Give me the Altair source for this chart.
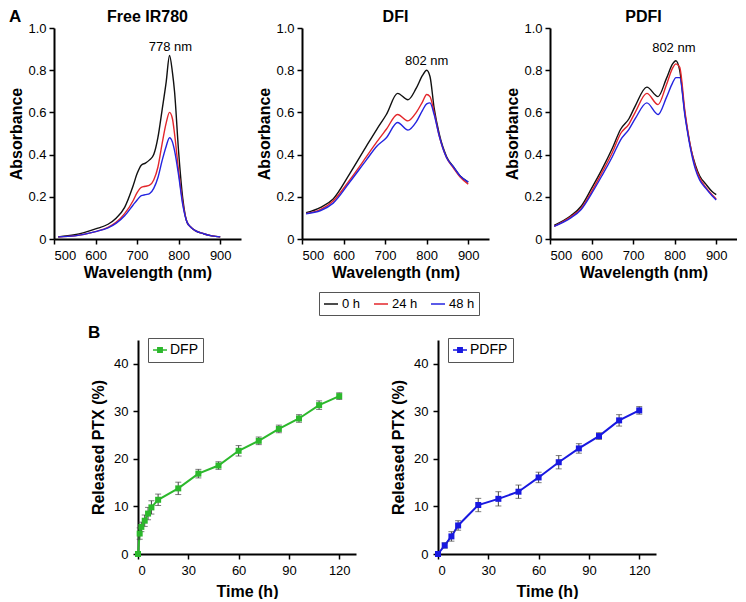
import altair as alt
import pandas as pd

FONT = "Liberation Sans"

# ---------------- Panel A: absorption spectra ----------------
SERIES = ["0 h", "24 h", "48 h"]
SERIES_COLORS = ["#111111", "#e3262b", "#2424e0"]

PANEL_TITLES = ["Free IR780", "DFI", "PDFI"]
PEAK_LABELS = ["778 nm", "802 nm", "802 nm"]
PEAK_WL = [780, 800, 798]
PEAK_ABS = [0.91, 0.842, 0.907]

FREE_WL = [510, 550, 600, 630, 650, 670, 690, 700, 710, 720, 730, 740, 750, 760, 770, 778,
           785, 790, 800, 810, 820, 830, 840, 860, 880, 900]
FREE_0H = [0.01, 0.02, 0.048, 0.07, 0.10, 0.15, 0.25, 0.31, 0.35, 0.36, 0.375, 0.40, 0.48, 0.61,
           0.745, 0.87, 0.79, 0.70, 0.41, 0.19, 0.08, 0.055, 0.04, 0.025, 0.015, 0.01]
FREE_24H = [0.01, 0.015, 0.035, 0.055, 0.08, 0.12, 0.18, 0.22, 0.245, 0.25, 0.255, 0.28, 0.34, 0.45,
            0.55, 0.60, 0.57, 0.50, 0.32, 0.17, 0.08, 0.055, 0.04, 0.025, 0.015, 0.01]
FREE_48H = [0.01, 0.015, 0.035, 0.053, 0.075, 0.11, 0.16, 0.185, 0.205, 0.21, 0.215, 0.24, 0.29, 0.37,
            0.44, 0.48, 0.46, 0.42, 0.30, 0.16, 0.08, 0.055, 0.04, 0.025, 0.015, 0.01]

DFI_WL = [510, 545, 575, 615, 655, 680, 703, 730, 755, 775, 790, 800, 808, 818, 830, 848, 865, 880, 900]
DFI_0H = [0.125, 0.15, 0.19, 0.31, 0.44, 0.52, 0.59, 0.69, 0.66, 0.715, 0.775, 0.80, 0.77, 0.62,
          0.50, 0.39, 0.34, 0.30, 0.27]
DFI_24H = [0.12, 0.14, 0.18, 0.28, 0.39, 0.46, 0.52, 0.59, 0.56, 0.60, 0.65, 0.685, 0.675, 0.60,
           0.49, 0.385, 0.335, 0.295, 0.26]
DFI_48H = [0.12, 0.135, 0.17, 0.27, 0.375, 0.44, 0.48, 0.552, 0.516, 0.555, 0.61, 0.64, 0.645, 0.59,
           0.49, 0.385, 0.34, 0.30, 0.27]

PDFI_WL = [510, 550, 575, 600, 625, 650, 670, 690, 705, 733, 760, 780, 795, 803, 812, 825, 840, 850,
           860, 875, 890, 900]
PDFI_0H = [0.065, 0.11, 0.155, 0.24, 0.33, 0.43, 0.52, 0.57, 0.63, 0.72, 0.675, 0.76, 0.83, 0.845,
           0.80, 0.59, 0.42, 0.35, 0.30, 0.26, 0.225, 0.21]
PDFI_24H = [0.06, 0.105, 0.145, 0.225, 0.315, 0.41, 0.50, 0.545, 0.60, 0.69, 0.637, 0.73, 0.81, 0.83,
            0.815, 0.60, 0.42, 0.34, 0.29, 0.245, 0.21, 0.19]
PDFI_48H = [0.06, 0.10, 0.14, 0.215, 0.30, 0.39, 0.47, 0.52, 0.57, 0.645, 0.59, 0.67, 0.74, 0.765,
            0.765, 0.58, 0.41, 0.33, 0.28, 0.24, 0.205, 0.185]

WL_TICKS = [500, 550, 600, 650, 700, 750, 800, 850, 900, 950]
ABS_TICKS = [0, 0.1, 0.2, 0.3, 0.4, 0.5, 0.6, 0.7, 0.8, 0.9, 1.0]

# ---------------- Panel B: PTX release ----------------
DFP_T = [0, 1, 2, 4, 6, 8, 12, 24, 36, 48, 60, 72, 84, 96, 108, 120]
DFP_MEAN = [0, 4.3, 5.7, 7.0, 8.5, 9.8, 11.4, 13.8, 16.9, 18.6, 21.7, 23.8, 26.3, 28.5, 31.3, 33.2]
DFP_ERR = [0, 1.2, 1.0, 1.2, 1.3, 1.4, 1.2, 1.3, 0.9, 0.8, 1.1, 0.8, 0.8, 0.8, 0.9, 0.7]

PDFP_T = [0, 4, 8, 12, 24, 36, 48, 60, 72, 84, 96, 108, 120]
PDFP_MEAN = [0, 1.8, 3.7, 6.0, 10.3, 11.6, 13.1, 16.1, 19.3, 22.2, 24.8, 28.1, 30.2]
PDFP_ERR = [0, 0.55, 1.0, 1.0, 1.4, 1.5, 1.4, 1.1, 1.4, 1.0, 0.7, 1.2, 0.8]

TIME_TICKS = [0, 15, 30, 45, 60, 75, 90, 105, 120]
PTX_TICKS = [0, 5, 10, 15, 20, 25, 30, 35, 40, 45]

LETTERS = ["A", "B"]

AW, AH = 187, 211
BW, BH = 218, 214

LINE_SQ = "M-1,-0.12H1V0.12H-1Z M-0.42,-0.42H0.42V0.42H-0.42Z"


def spectrum_panel(idx, wl, vals, legend=None, letter=None):
    rows = []
    for s, ys in zip(SERIES, vals):
        for w, v in zip(wl, ys):
            rows.append({"wl": w, "abs": v, "series": s})
    df = pd.DataFrame(rows)
    x = alt.X("wl:Q", scale=alt.Scale(domain=[500, 950], nice=False, zero=False),
              axis=alt.Axis(title="Wavelength (nm)", values=WL_TICKS,
                            labelExpr="datum.value % 100 == 0 && datum.value <= 900 ? datum.label : ''",
                            titleX=AW / 2, titleY=38, titleBaseline="alphabetic"))
    y = alt.Y("abs:Q", scale=alt.Scale(domain=[0, 1], nice=False),
              axis=alt.Axis(title="Absorbance", values=ABS_TICKS, labelPadding=3,
                            labelExpr="datum.value == 0 ? '0' : (round(datum.value*10) % 2 == 0 ? format(datum.value, '.1f') : '')",
                            titleX=-33, titleY=AH / 2, titleBaseline="alphabetic"))
    color = alt.Color("series:N", scale=alt.Scale(domain=SERIES, range=SERIES_COLORS),
                      legend=legend)
    lines = alt.Chart(df).mark_line(strokeWidth=1.4, interpolate="monotone").encode(
        x=x, y=y, color=color, detail="series:N")
    peak = alt.Chart(pd.DataFrame({"wl": [PEAK_WL[idx]], "abs": [PEAK_ABS[idx]],
                                   "label": [PEAK_LABELS[idx]]})).mark_text(
        font=FONT, fontSize=13, color="black", baseline="middle").encode(
        x="wl:Q", y="abs:Q", text="label:N")
    title = alt.Chart(pd.DataFrame({"t": [PANEL_TITLES[idx]]})).mark_text(
        font=FONT, fontSize=16, fontWeight="bold", color="black", baseline="middle").encode(
        x=alt.value(AW / 2), y=alt.value(-11), text="t:N")
    layers = [lines, peak, title]
    if letter is not None:
        lt = alt.Chart(pd.DataFrame({"t": [letter]})).mark_text(
            font=FONT, fontSize=17, fontWeight="bold", color="black", baseline="middle",
            align="left").encode(x=alt.value(-45), y=alt.value(-11), text="t:N")
        layers.append(lt)
    return alt.layer(*layers).properties(width=AW, height=AH)


def release_panel(name, color_hex, t, mean, err, letter=None):
    df = pd.DataFrame({"t": t, "mean": mean, "err": err, "name": [name] * len(t)})
    base = alt.Chart(df).transform_calculate(
        lo="datum.mean - datum.err", hi="datum.mean + datum.err")
    x = alt.X("t:Q", scale=alt.Scale(domain=[0, 130], nice=False),
              axis=alt.Axis(title="Time (h)", values=TIME_TICKS,
                            labelExpr="datum.value % 30 == 0 ? datum.label : ''",
                            titleX=BW / 2, titleY=42, titleBaseline="alphabetic"))
    y = alt.Y("mean:Q", scale=alt.Scale(domain=[0, 45], nice=False),
              axis=alt.Axis(title="Released PTX (%)", values=PTX_TICKS, labelPadding=5,
                            labelExpr="datum.value % 10 == 0 ? datum.label : ''",
                            titleX=-35, titleY=BH / 2, titleBaseline="alphabetic"))
    line = base.mark_line(color=color_hex, strokeWidth=2).encode(x=x, y=y)
    rule = base.mark_rule(color="#444444", strokeWidth=1).encode(
        x="t:Q", y="lo:Q", y2="hi:Q")
    cap_lo = base.mark_tick(color="#444444", orient="horizontal", size=6, thickness=1).encode(
        x="t:Q", y="lo:Q")
    cap_hi = base.mark_tick(color="#444444", orient="horizontal", size=6, thickness=1).encode(
        x="t:Q", y="hi:Q")
    pts = base.mark_square(size=36, filled=True, opacity=1).encode(
        x="t:Q", y="mean:Q",
        color=alt.Color("name:N", scale=alt.Scale(domain=[name], range=[color_hex]),
                        legend=alt.Legend(title=None, orient="none", legendX=10, legendY=-2,
                                          strokeColor="#555555", padding=5, labelFontSize=14,
                                          labelFont=FONT, labelColor="black",
                                          symbolType=LINE_SQ, symbolSize=196,
                                          symbolStrokeWidth=0, labelOffset=3)))
    layers = [line, rule, cap_lo, cap_hi, pts]
    if letter is not None:
        lt = alt.Chart(pd.DataFrame({"t": [letter]})).mark_text(
            font=FONT, fontSize=17, fontWeight="bold", color="black", baseline="middle",
            align="left").encode(x=alt.value(-50), y=alt.value(-7), text="t:N")
        layers.append(lt)
    return alt.layer(*layers).properties(width=BW, height=BH)


legend_a = alt.Legend(title=None, orient="none", legendX=17, legendY=264, direction="horizontal",
                      strokeColor="#555555", padding=4, labelFontSize=13, labelFont=FONT,
                      labelColor="black", symbolType="stroke", symbolSize=196,
                      symbolStrokeWidth=1.5, labelOffset=3, columnPadding=10)

a1 = spectrum_panel(0, FREE_WL, [FREE_0H, FREE_24H, FREE_48H], legend=None, letter=LETTERS[0])
a2 = spectrum_panel(1, DFI_WL, [DFI_0H, DFI_24H, DFI_48H], legend=legend_a)
a3 = spectrum_panel(2, PDFI_WL, [PDFI_0H, PDFI_24H, PDFI_48H], legend=None)

b1 = release_panel("DFP", "#2cb82c", DFP_T, DFP_MEAN, DFP_ERR, letter=LETTERS[1])
b2 = release_panel("PDFP", "#1818e0", PDFP_T, PDFP_MEAN, PDFP_ERR)

# empty spacer view that shifts panel B to the right
blank = alt.Chart(pd.DataFrame({"t": [0]})).mark_point(opacity=0, size=1).encode(
    x=alt.value(0), y=alt.value(0)).properties(width=34, height=BH)

top = alt.hconcat(a1, a2, a3, spacing=15).resolve_scale(color="independent").resolve_legend(color="independent")
b_pair = alt.hconcat(b1, b2, spacing=34).resolve_scale(color="independent").resolve_legend(color="independent")
bottom = alt.hconcat(blank, b_pair, spacing=0).resolve_scale(color="independent").resolve_legend(color="independent")

chart = alt.vconcat(top, bottom, spacing=8).resolve_scale(
    color="independent").resolve_legend(color="independent").properties(padding=0).configure_view(
    stroke=None).configure_axis(
    domainColor="black", domainWidth=2, tickColor="black", tickWidth=1.5, tickSize=5,
    labelFont=FONT, labelFontSize=13, labelColor="black", labelPadding=5,
    titleFont=FONT, titleFontSize=16, titleFontWeight="bold", titleColor="black",
    grid=False).configure_legend(labelFont=FONT)

chart.save("out.html", embed_options={"renderer": "svg", "actions": False})
